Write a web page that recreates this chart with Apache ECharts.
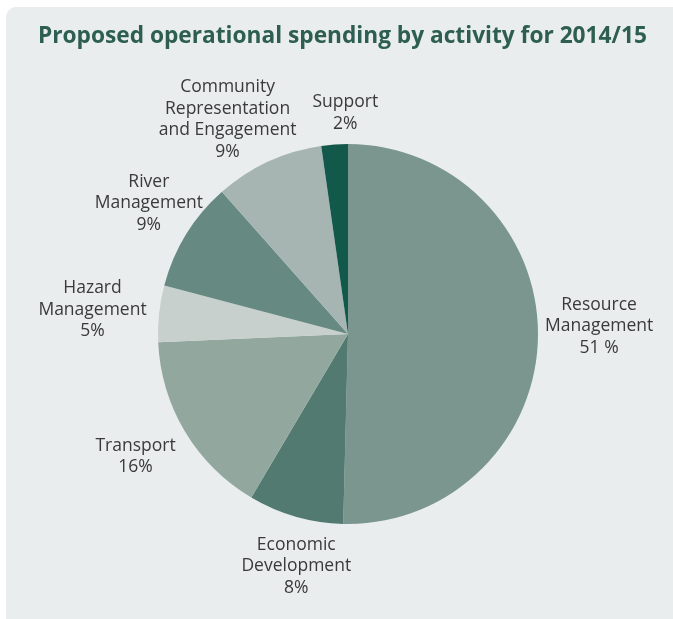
<!DOCTYPE html>
<html>
<head>
<meta charset="utf-8">
<script src="https://cdn.jsdelivr.net/npm/echarts@6/dist/echarts.min.js"></script>
<style>
  html, body { margin: 0; padding: 0; background: #ffffff; width: 673px; height: 619px; overflow: hidden; }
  #panel { position: absolute; left: 6px; top: 7px; width: 700px; height: 640px; background: #e9eded; border-radius: 10px; }
  #chart { position: absolute; left: 0; top: 0; width: 673px; height: 619px; }
</style>
</head>
<body>
<div id="panel"></div>
<div id="chart"></div>
<script>
const titleText = 'Proposed operational spending by activity for 2014/15';
const categories = ['Resource Management', 'Economic Development', 'Transport', 'Hazard Management', 'River Management', 'Community Representation and Engagement', 'Support'];
const labelTexts = ['Resource\nManagement\n51 %', 'Economic\nDevelopment\n8%', 'Transport\n16%', 'Hazard\nManagement\n5%', 'River\nManagement\n9%', 'Community\nRepresentation\nand Engagement\n9%', 'Support\n2%'];
const values = [50.4, 8.1, 15.8, 4.8, 9.35, 9.3, 2.25];
const colors = ['#7a968e', '#527a70', '#92a89f', '#c8d0cd', '#668a81', '#a6b5b1', '#12584b'];

// layout tweak: small per-label nudges (pixels) applied after radial placement
const LABEL_NUDGE = [[-3, -11], [13, 7], [-10, 1], [-3, 3], [13, 0], [-16, 11], [13, 0]];
const LABEL_GAP = 10;

const chart = echarts.init(document.getElementById('chart'), null, { renderer: 'canvas' });
const data = categories.map((c, i) => ({
  name: c,
  value: values[i],
  itemStyle: { color: colors[i] },
  label: { formatter: labelTexts[i] }
}));

chart.setOption({
  backgroundColor: 'transparent',
  animation: false,
  title: {
    text: titleText,
    left: 33,
    top: 20,
    textStyle: { fontFamily: 'Open Sans', fontWeight: 'bold', fontSize: 22.7, color: '#2d5e50' }
  },
  series: [{
    type: 'pie',
    center: [348, 334],
    radius: [0, 190],
    startAngle: 90,
    clockwise: true,
    avoidLabelOverlap: false,
    data: data,
    label: {
      show: true,
      position: 'outside',
      fontFamily: 'Open Sans',
      fontSize: 17.5,
      lineHeight: 21.5,
      color: '#3a3a3a',
      align: 'center'
    },
    labelLine: { show: false, length: 8, length2: 0 },
    labelLayout: function (params) {
      const lay = chart.getModel().getSeriesByIndex(0).getData().getItemLayout(params.dataIndex);
      const mid = (lay.startAngle + lay.endAngle) / 2;
      const ux = Math.cos(mid), uy = Math.sin(mid);
      const w = params.labelRect.width / 2, h = params.labelRect.height / 2;
      const ext = Math.sqrt((ux * w) * (ux * w) + (uy * h) * (uy * h));
      const d = lay.r + LABEL_GAP + ext;
      const n = LABEL_NUDGE[params.dataIndex] || [0, 0];
      return {
        x: lay.cx + ux * d + n[0],
        y: lay.cy + uy * d + n[1],
        align: 'center',
        verticalAlign: 'middle',
        hideOverlap: false
      };
    }
  }]
});
</script>
</body>
</html>
